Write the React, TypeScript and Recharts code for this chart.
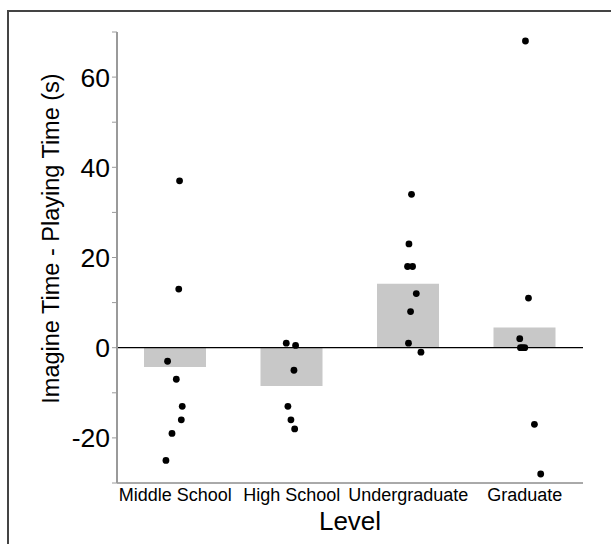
import React from 'react';
import {
  ComposedChart,
  Bar,
  Scatter,
  XAxis,
  YAxis,
  ReferenceLine,
  Label,
} from 'recharts';

const levels = ['Middle School', 'High School', 'Undergraduate', 'Graduate'];
const means = [-4.3, -8.5, 14.2, 4.5];

const middleValues = [37, 13, -3, -7, -13, -16, -19, -25];
const middleJitter = [0.037, 0.03, -0.066, 0.009, 0.06, 0.052, -0.028, -0.08];
const highValues = [1, 0.5, -5, -13, -16, -18];
const highJitter = [-0.047, 0.033, 0.019, -0.033, -0.007, 0.025];
const underValues = [34, 23, 18, 18, 12, 8, 1, -1];
const underJitter = [0.028, 0.006, -0.006, 0.037, 0.069, 0.02, 0.002, 0.109];
const gradValues = [68, 11, 2, 0, 0, 0, -17, -28];
const gradJitter = [0.006, 0.032, -0.043, -0.037, -0.02, 0, 0.083, 0.137];

const yTicks = [-30, -20, -10, 0, 10, 20, 30, 40, 50, 60, 70];

const barData = levels.map((level, i) => ({ level, mean: means[i] }));

const groups = [
  [middleValues, middleJitter],
  [highValues, highJitter],
  [underValues, underJitter],
  [gradValues, gradJitter],
];
const pointData: { x: number; y: number }[] = [];
groups.forEach(([vals, jit], i) => {
  vals.forEach((v, k) => pointData.push({ x: i + 1 + jit[k], y: v }));
});

const FONT = '"Liberation Sans", Arial, Helvetica, sans-serif';

const YLabel = (props: any) => {
  const vb = props.viewBox || {};
  const x = vb.x + 58.5;
  const y = vb.y + vb.height / 2 - 19;
  return (
    <text
      x={x}
      y={y}
      transform={`rotate(-90, ${x}, ${y})`}
      textAnchor="middle"
      fontFamily={FONT}
      fontSize={23.5}
      fill="#000"
    >
      Imagine Time - Playing Time (s)
    </text>
  );
};

const XLabel = (props: any) => {
  const vb = props.viewBox || {};
  const x = vb.x + vb.width / 2;
  const y = vb.y + 47;
  return (
    <text
      x={x}
      y={y}
      textAnchor="middle"
      fontFamily={FONT}
      fontSize={26}
      fill="#000"
    >
      Level
    </text>
  );
};

const Dot = (props: any) => (
  <circle cx={props.cx} cy={props.cy} r={3.4} fill="#000" />
);

export default function App() {
  return (
    <div
      style={{
        position: 'absolute',
        left: 0,
        top: 0,
        width: 611,
        height: 544,
        overflow: 'hidden',
        background: '#fff',
      }}
    >
      <div
        style={{
          position: 'absolute',
          left: 7,
          top: 10,
          width: 800,
          height: 800,
          borderLeft: '2px solid #444',
          borderTop: '2px solid #444',
        }}
      />
      <div style={{ position: 'absolute', left: 0, top: 0 }}>
        <ComposedChart
          width={611}
          height={544}
          data={barData}
          margin={{ top: 32, right: 28, bottom: 0, left: 0 }}
        >
          <XAxis
            dataKey="level"
            type="category"
            height={61}
            stroke="#555"
            tickLine={false}
            tickSize={0}
            tickMargin={5}
            interval={0}
            tick={{ fontFamily: FONT, fontSize: 18, fill: '#000' }}
          >
            <Label content={<XLabel />} />
          </XAxis>
          <XAxis
            xAxisId="num"
            dataKey="x"
            type="number"
            domain={[0.5, 4.5]}
            allowDataOverflow
            hide
          />
          <YAxis
            type="number"
            domain={[-30, 70]}
            ticks={yTicks}
            interval={0}
            width={117}
            stroke="#9a9a9a"
            strokeWidth={2}
            tickSize={5}
            tickMargin={2}
            tickLine={{ stroke: '#9a9a9a', strokeWidth: 1 }}
            tickFormatter={(v: number) => (v % 20 === 0 ? String(v) : '')}
            tick={{ fontFamily: FONT, fontSize: 26.5, fill: '#000' }}
          >
            <Label content={<YLabel />} />
          </YAxis>
          <Bar
            dataKey="mean"
            fill="#c8c8c8"
            barSize={62}
            isAnimationActive={false}
          />
          <ReferenceLine y={0} stroke="#000" strokeWidth={1.2} />
          <Scatter
            data={pointData}
            dataKey="y"
            xAxisId="num"
            shape={<Dot />}
            isAnimationActive={false}
          />
        </ComposedChart>
      </div>
    </div>
  );
}
